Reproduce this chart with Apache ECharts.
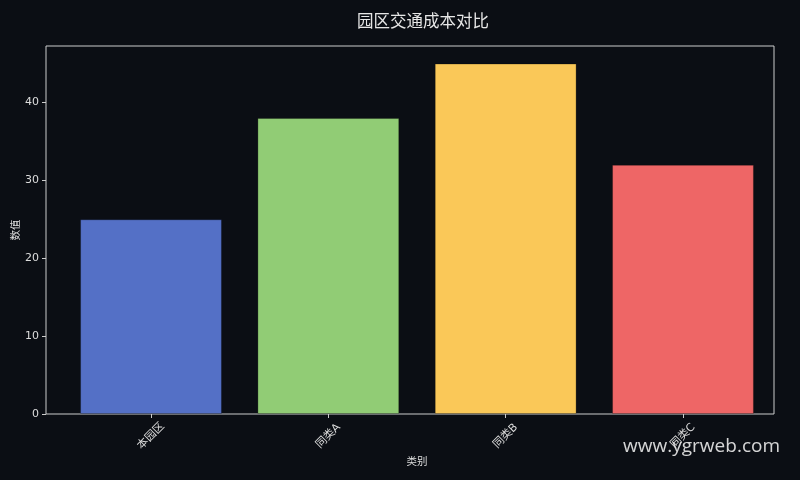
<!DOCTYPE html>
<html>
<head>
<meta charset="utf-8">
<script src="https://cdn.jsdelivr.net/npm/echarts@6/dist/echarts.min.js"></script>
<style>
html,body{margin:0;padding:0;background:#0b0e14;}
#c{width:800px;height:480px;}
</style>
</head>
<body>
<div id="c"></div>
<script>
var categories = ['本园区', '同类A', '同类B', '同类C'];
var values = [25, 38, 45, 32];
var barColors = ['#5470c6', '#91cc75', '#fac858', '#ee6666'];
var yTicks = [0, 10, 20, 30, 40];
var titleText = '园区交通成本对比';
var yName = '数值';
var xName = '类别';
var watermark = 'www.ygrweb.com';

var FONT = 'DejaVu Sans, Noto Sans CJK SC, sans-serif';
var chart = echarts.init(document.getElementById('c'));
var yMax = 47.25;
chart.setOption({
  backgroundColor: '#0b0e14',
  animation: false,
  title: {
    text: titleText, left: 418, textAlign: 'center', top: 9,
    textStyle: {color: '#e6e6e6', fontSize: 16.5, fontWeight: 'normal', fontFamily: FONT}
  },
  grid: [
    {left: 46, top: 46, width: 728, height: 368, show: true, borderColor: '#cccccc', borderWidth: 1, backgroundColor: 'transparent', containLabel: false, outerBoundsMode: 'none'},
    {left: 62.35, top: 46, width: 709.3, height: 368, containLabel: false, outerBoundsMode: 'none'}
  ],
  xAxis: [
    {
      type: 'category', gridIndex: 0, data: categories,
      axisLine: {show: false}, axisTick: {show: false}, axisLabel: {show: false}, splitLine: {show: false}
    },
    {
      type: 'category', gridIndex: 1, data: categories,
      axisLine: {show: false},
      axisTick: {show: true, alignWithLabel: true, length: 4, lineStyle: {color: '#cccccc'}},
      axisLabel: {color: '#dddddd', fontSize: 11, fontFamily: FONT, rotate: 45, align: 'center', verticalAlign: 'middle', margin: 22},
      splitLine: {show: false},
      name: xName, nameLocation: 'middle', nameGap: 43, nameMoveOverlap: false,
      nameTextStyle: {color: '#dddddd', fontSize: 10.5, fontFamily: FONT}
    }
  ],
  yAxis: [
    {
      type: 'value', gridIndex: 0, min: 0, max: yMax,
      axisLine: {show: false},
      axisTick: {show: true, length: 4, lineStyle: {color: '#cccccc'}, customValues: yTicks},
      axisLabel: {color: '#dddddd', fontSize: 11, fontFamily: FONT, margin: 7, customValues: yTicks},
      splitLine: {show: false},
      name: yName, nameLocation: 'middle', nameGap: 24, nameRotate: 90, nameMoveOverlap: false,
      nameTextStyle: {color: '#dddddd', fontSize: 10.5, fontFamily: FONT}
    },
    {
      type: 'value', gridIndex: 1, min: 0, max: yMax, show: false
    }
  ],
  series: [{
    type: 'bar', xAxisIndex: 1, yAxisIndex: 1,
    barWidth: '80%',
    data: values.map(function (v, i) {
      return {value: v, itemStyle: {color: barColors[i], borderColor: 'rgba(0,0,0,0.25)', borderWidth: 1}};
    })
  }],
  graphic: [{
    type: 'text', right: 20, top: 437,
    style: {text: watermark, fill: 'rgba(235,235,235,0.9)', fontSize: 19, fontFamily: 'Open Sans, DejaVu Sans, sans-serif'}
  }]
});
</script>
</body>
</html>
